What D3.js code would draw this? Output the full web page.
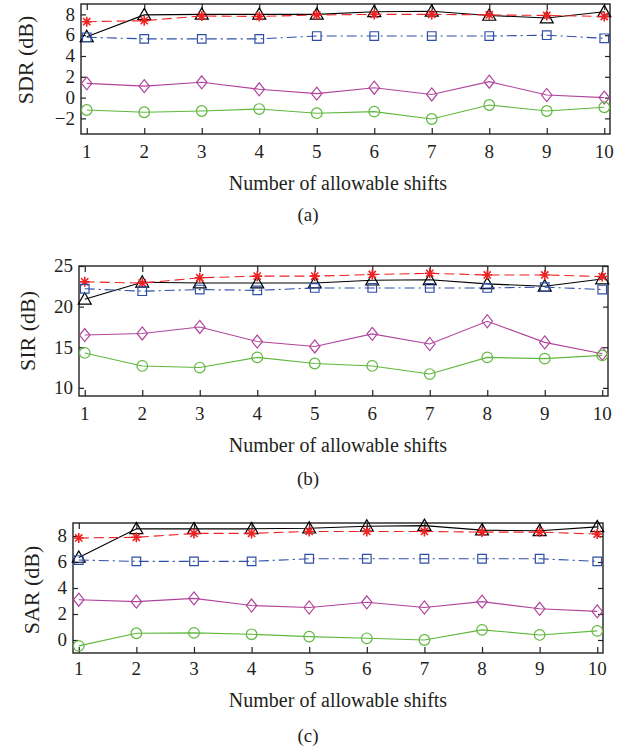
<!DOCTYPE html>
<html>
<head>
<meta charset="utf-8">
<script src="https://cdn.jsdelivr.net/npm/d3@7"></script>
<style>
  html, body { margin: 0; padding: 0; background: #fff; }
  svg { display: block; }
  text { font-family: "Liberation Serif", "Times New Roman", serif; fill: #231f20; }
</style>
</head>
<body>
<svg id="chart" width="623" height="750"></svg>
<script>
// ---------------- DATA ----------------
const shifts = [1, 2, 3, 4, 5, 6, 7, 8, 9, 10];
const xTickLabels = ["1", "2", "3", "4", "5", "6", "7", "8", "9", "10"];

// (a) SDR
const sdrTriangle = [5.85, 7.95, 8.0, 8.0, 8.0, 8.25, 8.3, 7.9, 7.65, 8.25];
const sdrStar     = [7.3, 7.4, 7.85, 7.8, 7.95, 8.0, 8.0, 7.95, 7.9, 7.8];
const sdrSquare   = [5.8, 5.65, 5.65, 5.65, 5.92, 5.92, 5.92, 5.92, 6.0, 5.7];
const sdrDiamond  = [1.37, 1.1, 1.47, 0.8, 0.38, 0.95, 0.3, 1.53, 0.25, 0.0];
const sdrCircle   = [-1.19, -1.41, -1.29, -1.1, -1.5, -1.35, -2.06, -0.71, -1.29, -0.93];
const sdrTicks = [-2, 0, 2, 4, 6, 8];

// (b) SIR
const sirTriangle = [20.9, 23.0, 22.9, 22.9, 22.9, 23.25, 23.3, 22.8, 22.5, 23.4];
const sirStar     = [23.05, 22.9, 23.55, 23.75, 23.75, 23.95, 24.1, 23.9, 23.9, 23.7];
const sirSquare   = [22.2, 21.9, 22.1, 22.0, 22.3, 22.3, 22.3, 22.3, 22.4, 22.1];
const sirDiamond  = [16.5, 16.7, 17.5, 15.7, 15.1, 16.65, 15.4, 18.2, 15.6, 14.2];
const sirCircle   = [14.3, 12.7, 12.5, 13.75, 13.0, 12.7, 11.7, 13.75, 13.6, 14.0];
const sirTicks = [10, 15, 20, 25];

// (c) SAR
const sarTriangle = [6.35, 8.55, 8.55, 8.55, 8.6, 8.75, 8.8, 8.45, 8.4, 8.7];
const sarStar     = [7.85, 7.9, 8.2, 8.2, 8.35, 8.35, 8.35, 8.3, 8.3, 8.15];
const sarSquare   = [6.15, 6.05, 6.05, 6.05, 6.25, 6.25, 6.25, 6.25, 6.25, 6.05];
const sarDiamond  = [3.1, 2.95, 3.2, 2.65, 2.5, 2.9, 2.5, 2.95, 2.4, 2.2];
const sarCircle   = [-0.45, 0.52, 0.55, 0.44, 0.26, 0.13, 0.0, 0.78, 0.39, 0.7];
const sarTicks = [0, 2, 4, 6, 8];

const yLabels = ["SDR (dB)", "SIR (dB)", "SAR (dB)"];
const captions = ["(a)", "(b)", "(c)"];
const xTitle = "Number of allowable shifts";

// ---------------- STYLE / LAYOUT ----------------
const seriesStyle = [
  { key: "triangle", color: "#000000", dash: null },
  { key: "star",     color: "#ee2222", dash: "10,5" },
  { key: "square",   color: "#2f4fa6", dash: "10,4,2,4" },
  { key: "diamond",  color: "#b0449c", dash: null },
  { key: "circle",   color: "#5fb83e", dash: null }
];

const panels = [
  { data: [sdrTriangle, sdrStar, sdrSquare, sdrDiamond, sdrCircle], ticks: sdrTicks, domain: [-3.5, 9],
    box: { l: 81, r: 610, t: 4, b: 134 }, ylab: { x: 33, y: 60 }, tickBase: 158, titleBase: 190, capBase: 221 },
  { data: [sirTriangle, sirStar, sirSquare, sirDiamond, sirCircle], ticks: sirTicks, domain: [9, 25],
    box: { l: 79, r: 608, t: 266, b: 396 }, ylab: { x: 35, y: 331 }, tickBase: 420, titleBase: 452, capBase: 485 },
  { data: [sarTriangle, sarStar, sarSquare, sarDiamond, sarCircle], ticks: sarTicks, domain: [-1, 9],
    box: { l: 73, r: 603, t: 523, b: 653 }, ylab: { x: 39, y: 590 }, tickBase: 675, titleBase: 707, capBase: 742 }
];

// marker shape generators (relative to point)
function markerPath(kind) {
  const p = d3.path();
  if (kind === "triangle") {
    p.moveTo(0, -6.5); p.lineTo(6.5, 4.8); p.lineTo(-6.5, 4.8); p.closePath();
  } else if (kind === "square") {
    p.rect(-4.3, -4.3, 8.6, 8.6);
  } else if (kind === "diamond") {
    p.moveTo(0, -6.5); p.lineTo(5.2, 0); p.lineTo(0, 6.5); p.lineTo(-5.2, 0); p.closePath();
  } else if (kind === "star") {
    const r = 5, d = 3.6;
    p.moveTo(-r, 0); p.lineTo(r, 0);
    p.moveTo(0, -r); p.lineTo(0, r);
    p.moveTo(-d, -d); p.lineTo(d, d);
    p.moveTo(-d, d); p.lineTo(d, -d);
  } else if (kind === "circle") {
    p.arc(0, 0, 5.3, 0, 2 * Math.PI);
  }
  return p.toString();
}

const svg = d3.select("#chart");

panels.forEach((pn, pi) => {
  const B = pn.box;
  const x = d3.scaleLinear().domain([0.9, 10.1]).range([B.l, B.r]);
  const y = d3.scaleLinear().domain(pn.domain).range([B.b, B.t]);
  const g = svg.append("g");

  // box
  g.append("rect").attr("x", B.l).attr("y", B.t).attr("width", B.r - B.l).attr("height", B.b - B.t)
    .attr("fill", "none").attr("stroke", "#222").attr("stroke-width", 1.4);

  // axes with inward ticks (bottom/top/left/right)
  const fmt = d => (d < 0 ? "\u2212" + Math.abs(d) : String(d));
  const bottom = g.append("g").attr("transform", `translate(0,${B.b})`)
    .call(d3.axisBottom(x).tickValues(shifts).tickSizeInner(-6).tickSizeOuter(0).tickPadding(0)
      .tickFormat((d, i) => xTickLabels[i]));
  bottom.select(".domain").remove();
  bottom.selectAll("text").remove();
  bottom.selectAll("line").attr("stroke", "#222").attr("stroke-width", 1.2);
  g.selectAll(".xlab").data(shifts).enter().append("text")
    .attr("x", d => x(d)).attr("y", pn.tickBase).attr("text-anchor", "middle")
    .attr("font-size", 19).text((d, i) => xTickLabels[i]);

  const top = g.append("g").attr("transform", `translate(0,${B.t})`)
    .call(d3.axisTop(x).tickValues(shifts).tickSizeInner(-6).tickSizeOuter(0).tickFormat(""));
  top.select(".domain").remove();
  top.selectAll("line").attr("stroke", "#222").attr("stroke-width", 1.2);

  const left = g.append("g").attr("transform", `translate(${B.l},0)`)
    .call(d3.axisLeft(y).tickValues(pn.ticks).tickSizeInner(-5).tickSizeOuter(0).tickPadding(0).tickFormat(""));
  left.select(".domain").remove();
  left.selectAll("line").attr("stroke", "#222").attr("stroke-width", 1.2);
  g.selectAll(".ylabt").data(pn.ticks).enter().append("text")
    .attr("x", B.l - 6).attr("y", d => y(d)).attr("dy", "0.33em").attr("text-anchor", "end")
    .attr("font-size", 19).text(fmt);

  const right = g.append("g").attr("transform", `translate(${B.r},0)`)
    .call(d3.axisRight(y).tickValues(pn.ticks).tickSizeInner(-5).tickSizeOuter(0).tickFormat(""));
  right.select(".domain").remove();
  right.selectAll("line").attr("stroke", "#222").attr("stroke-width", 1.2);

  // series
  const line = d3.line().x((d, i) => x(shifts[i])).y(d => y(d));
  pn.data.forEach((vals, si) => {
    const st = seriesStyle[si];
    g.append("path").datum(vals).attr("d", line).attr("fill", "none")
      .attr("stroke", st.color).attr("stroke-width", 1.1)
      .attr("stroke-dasharray", st.dash);
    g.selectAll(".m" + si).data(vals).enter().append("path")
      .attr("transform", (d, i) => `translate(${x(shifts[i])},${y(d)})`)
      .attr("d", markerPath(st.key)).attr("fill", "none")
      .attr("stroke", st.color).attr("stroke-width", st.key === "star" ? 1.6 : 1.2);
  });

  // labels
  g.append("text").attr("transform", `translate(${pn.ylab.x},${pn.ylab.y}) rotate(-90)`)
    .attr("text-anchor", "middle").attr("font-size", 22).text(yLabels[pi]);
  g.append("text").attr("x", 338).attr("y", pn.titleBase).attr("text-anchor", "middle")
    .attr("font-size", 20).text(xTitle);
  g.append("text").attr("x", 308).attr("y", pn.capBase).attr("text-anchor", "middle")
    .attr("font-size", 19).text(captions[pi]);
});
</script>
</body>
</html>
